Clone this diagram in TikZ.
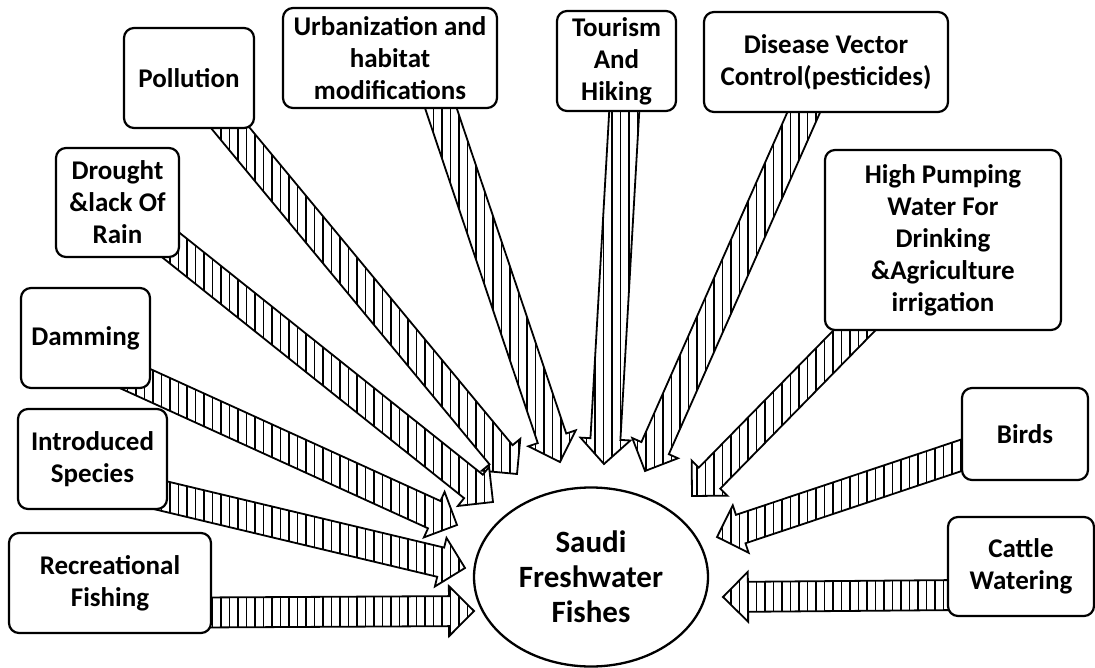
\documentclass[tikz,border=0pt]{standalone}
\usepackage{fontspec}
\setmainfont{Carlito}
\usetikzlibrary{calc,backgrounds,patterns.meta,shapes.geometric}

\tikzset{
  cause/.style={draw, line width=2.2pt, rounded corners=10pt, fill=white,
    align=center, inner sep=0pt, font=\bfseries\fontsize{27}{32}\selectfont},
  fishes/.style={draw, ellipse, line width=2.3pt, fill=white, align=center,
    inner sep=0pt, font=\bfseries\fontsize{31}{35}\selectfont},
  blockarr/.style={line width=1.8pt, line join=miter, preaction={fill=white},
    pattern={Lines[angle=90,distance=8.5pt,line width=1.2pt]}}
}

% block arrow from #1 to the tip #2
\newcommand{\blockarrow}[2]{%
  \coordinate (neck) at ($(#2)!25pt!(#1)$);
  \draw[blockarr] ($(#1)!15pt!90:(#2)$) -- ($(neck)!15pt!90:(#2)$)
    -- ($(neck)!25pt!90:(#2)$) -- (#2) -- ($(neck)!25pt!-90:(#2)$)
    -- ($(neck)!15pt!-90:(#2)$) -- ($(#1)!15pt!-90:(#2)$) -- cycle;
}

\begin{document}
\begin{tikzpicture}[x=1pt, y=-1pt]
    \useasboundingbox (0,0) rectangle (1095,668);

    % the causes
    \node[cause, minimum width=130pt, minimum height=100pt] (pollu) at (189,78) {Pollution};
    \node[cause, minimum width=214pt, minimum height=100pt] (urban) at (390,58)
        {Urbanization and\\habitat\\modifications};
    \node[cause, minimum width=119pt, minimum height=100pt] (tour) at (616.5,61) {Tourism\\And\\Hiking};
    \node[cause, minimum width=244pt, minimum height=100pt] (disease) at (826,62)
        {Disease Vector\\Control(pesticides)};
    \node[cause, minimum width=236pt, minimum height=180pt] (pump) at (943,240)
        {High Pumping\\Water For\\Drinking\\\&Agriculture\\irrigation};
    \node[cause, minimum width=123pt, minimum height=109pt] (drought) at (117.5,202.5)
        {Drought\\\&lack Of\\Rain};
    \node[cause, minimum width=129pt, minimum height=100pt] (dam) at (85.5,338) {Damming};
    \node[cause, minimum width=149pt, minimum height=100pt] (intro) at (92.5,459) {Introduced\\Species};
    \node[cause, minimum width=202pt, minimum height=100pt] (recfish) at (110,583) {Recreational\\Fishing};
    \node[cause, minimum width=126pt, minimum height=92pt] (birds) at (1025,434) {Birds};
    \node[cause, minimum width=146pt, minimum height=99pt] (cattle) at (1021,566.5) {Cattle\\Watering};

    % the fishes
    \node[fishes, minimum width=234pt, minimum height=179pt] (fish) at (591,577)
        {Saudi\\Freshwater\\Fishes};

    % tails of the arrows
    \coordinate (sUrban) at ($(urban.center)+(38,12)$);
    \coordinate (sTour) at ($(tour.center)+(10,11)$);
    \coordinate (sDam) at ($(dam.center)+(0,18)$);
    \coordinate (sIntro) at ($(intro.center)+(0,20)$);
    \coordinate (sRec) at ($(recfish.center)+(0,30)$);
    \coordinate (sCattle) at ($(cattle.center)+(0,28)$);

    % tips of the arrows
    \coordinate (tPollu) at (517,474);
    \coordinate (tUrban) at (560,462);
    \coordinate (tTour) at (604,464);
    \coordinate (tDisease) at (645,471);
    \coordinate (tPump) at (692,496);
    \coordinate (tDrought) at (493,502);
    \coordinate (tDam) at (457,525);
    \coordinate (tIntro) at (465,568);
    \coordinate (tRec) at (474,611);
    \coordinate (tBirds) at (717,537);
    \coordinate (tCattle) at (723,597);

    \begin{pgfonlayer}{background}
    \fill[white] (0,0) rectangle (1095,668);

    \blockarrow{pollu.center}{tPollu}
    \blockarrow{sUrban}{tUrban}
    \blockarrow{sTour}{tTour}
    \blockarrow{disease.center}{tDisease}
    \blockarrow{pump.center}{tPump}
    \blockarrow{drought.center}{tDrought}
    \blockarrow{sDam}{tDam}
    \blockarrow{sIntro}{tIntro}
    \blockarrow{sRec}{tRec}
    \blockarrow{birds.center}{tBirds}
    \blockarrow{sCattle}{tCattle}
    \end{pgfonlayer}

\end{tikzpicture}
\end{document}
